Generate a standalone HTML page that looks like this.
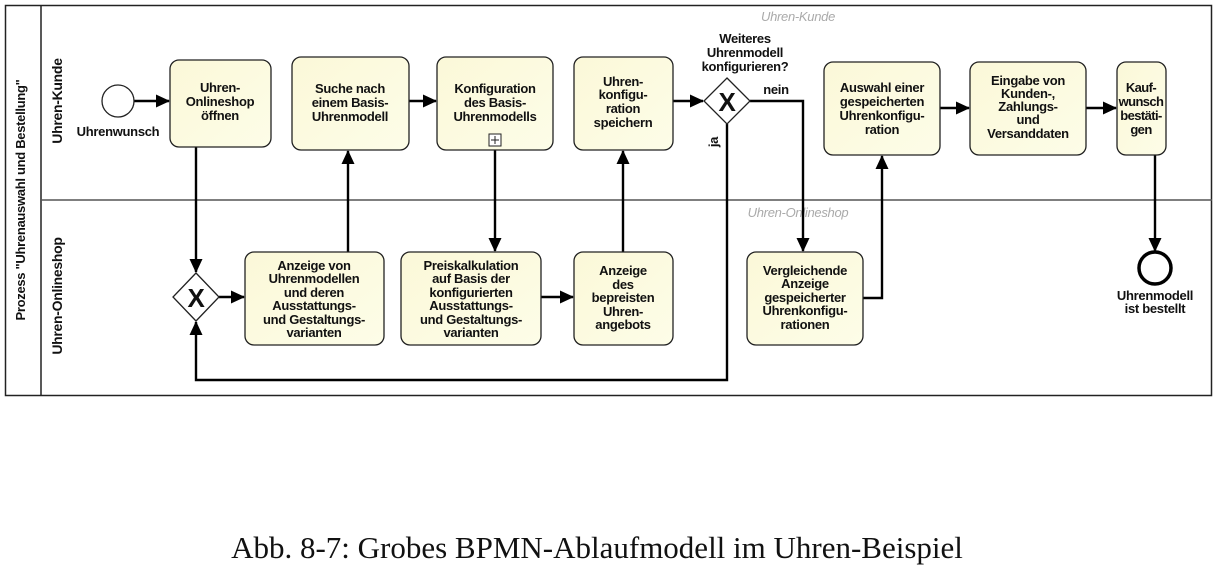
<!DOCTYPE html>
<html><head><meta charset="utf-8"><style>
html,body{margin:0;padding:0;background:#fff;}
svg{display:block;}
text{font-family:"Liberation Sans",sans-serif;font-weight:bold;font-size:13px;letter-spacing:-0.3px;fill:#111;}
.t{text-anchor:middle;}
.w{font-weight:normal;font-style:italic;fill:#aaa;font-size:13px;}
.box{fill:url(#g);stroke:#222;stroke-width:1.3;}
.ln{stroke:#000;stroke-width:2.4;fill:none;}
</style></head><body>
<svg width="1218" height="572" viewBox="0 0 1218 572">
<defs>
<linearGradient id="g" x1="0" y1="0" x2="1" y2="1"><stop offset="0" stop-color="#fbf8d8"/><stop offset="1" stop-color="#fdfde8"/></linearGradient>
<marker id="a" markerWidth="14" markerHeight="14" refX="13" refY="6.5" orient="auto" markerUnits="userSpaceOnUse"><path d="M0,0 L14,6.5 L0,13 z" fill="#000"/></marker>
</defs>
<rect x="5.5" y="5.5" width="1206" height="390" fill="#fff" stroke="#222" stroke-width="1.5"/>
<line x1="41" y1="5" x2="41" y2="395" stroke="#222" stroke-width="1.5"/>
<line x1="41" y1="200" x2="1212" y2="200" stroke="#555" stroke-width="1.5"/>
<text transform="translate(25,200) rotate(-90)" class="t" style="font-size:13px">Prozess "Uhrenauswahl und Bestellung"</text>
<text transform="translate(62,101) rotate(-90)" class="t" style="font-size:14px">Uhren-Kunde</text>
<text transform="translate(62,296) rotate(-90)" class="t" style="font-size:14px">Uhren-Onlineshop</text>
<text x="798" y="21" class="t w">Uhren-Kunde</text>
<text x="798" y="217" class="t w">Uhren-Onlineshop</text>

<path class="ln" d="M134,101 H169" marker-end="url(#a)"/>
<path class="ln" d="M196,147 V272" marker-end="url(#a)"/>
<path class="ln" d="M219,297 H244" marker-end="url(#a)"/>
<path class="ln" d="M348,252 V151" marker-end="url(#a)"/>
<path class="ln" d="M409,101 H436" marker-end="url(#a)"/>
<path class="ln" d="M495,150 V251" marker-end="url(#a)"/>
<path class="ln" d="M541,297 H573" marker-end="url(#a)"/>
<path class="ln" d="M623,252 V151" marker-end="url(#a)"/>
<path class="ln" d="M673,101 H703" marker-end="url(#a)"/>
<path class="ln" d="M750,101 H803 V251" marker-end="url(#a)"/>
<path class="ln" d="M727,124 V380 H196 V322" marker-end="url(#a)"/>
<path class="ln" d="M863,298 H882 V156" marker-end="url(#a)"/>
<path class="ln" d="M940,108 H969" marker-end="url(#a)"/>
<path class="ln" d="M1086,108 H1116" marker-end="url(#a)"/>
<path class="ln" d="M1155,155 V251" marker-end="url(#a)"/>

<circle cx="118" cy="101" r="16" fill="#fff" stroke="#222" stroke-width="1.3"/>
<text x="118" y="136" class="t">Uhrenwunsch</text>
<circle cx="1155" cy="268" r="16" fill="#fff" stroke="#000" stroke-width="3.5"/>
<text x="1155" y="300" class="t">Uhrenmodell</text>
<text x="1155" y="313" class="t">ist bestellt</text>

<g transform="translate(727,101)"><path d="M0,-23 L23,0 L0,23 L-23,0 z" fill="#fff" stroke="#222" stroke-width="1.3"/><text x="0" y="10" class="t" style="font-size:26px">X</text></g>
<g transform="translate(196,297)"><path d="M0,-24 L23,0 L0,24 L-23,0 z" fill="#fff" stroke="#222" stroke-width="1.3"/><text x="0" y="10" class="t" style="font-size:26px">X</text></g>
<text x="745" y="43" class="t">Weiteres</text>
<text x="745" y="57" class="t">Uhrenmodell</text>
<text x="745" y="71" class="t">konfigurieren?</text>
<text x="776" y="94" class="t">nein</text>
<text transform="translate(718,142) rotate(-90)" class="t">ja</text>

<rect class="box" x="170" y="60" width="101" height="87" rx="9"/>
<text x="220" y="92" class="t">Uhren-</text><text x="220" y="106" class="t">Onlineshop</text><text x="220" y="120" class="t">öffnen</text>
<rect class="box" x="292" y="57" width="117" height="93" rx="9"/>
<text x="350" y="93" class="t">Suche nach</text><text x="350" y="107" class="t">einem Basis-</text><text x="350" y="121" class="t">Uhrenmodell</text>
<rect class="box" x="437" y="57" width="116" height="93" rx="9"/>
<text x="495" y="93" class="t">Konfiguration</text><text x="495" y="107" class="t">des Basis-</text><text x="495" y="121" class="t">Uhrenmodells</text>
<rect x="489" y="134" width="12" height="12" fill="#fff" stroke="#222"/><path d="M495,136 V144 M491,140 H499" stroke="#222"/>
<rect class="box" x="574" y="57" width="99" height="93" rx="9"/>
<text x="623" y="86" class="t">Uhren-</text><text x="623" y="99" class="t">konfigu-</text><text x="623" y="113" class="t">ration</text><text x="623" y="127" class="t">speichern</text>
<rect class="box" x="824" y="62" width="116" height="93" rx="9"/>
<text x="882" y="92" class="t">Auswahl einer</text><text x="882" y="106" class="t">gespeicherten</text><text x="882" y="120" class="t">Uhrenkonfigu-</text><text x="882" y="134" class="t">ration</text>
<rect class="box" x="970" y="62" width="116" height="93" rx="9"/>
<text x="1028" y="85" class="t">Eingabe von</text><text x="1028" y="98" class="t">Kunden-,</text><text x="1028" y="111" class="t">Zahlungs-</text><text x="1028" y="124" class="t">und</text><text x="1028" y="138" class="t">Versanddaten</text>
<rect class="box" x="1117" y="62" width="49" height="93" rx="9"/>
<text x="1141" y="92" class="t" style="letter-spacing:-0.6px">Kauf-</text><text x="1141" y="106" class="t" style="letter-spacing:-0.6px">wunsch</text><text x="1141" y="120" class="t" style="letter-spacing:-0.6px">bestäti-</text><text x="1141" y="134" class="t" style="letter-spacing:-0.6px">gen</text>

<rect class="box" x="245" y="252" width="139" height="93" rx="9"/>
<text x="314" y="270" class="t">Anzeige von</text><text x="314" y="283" class="t">Uhrenmodellen</text><text x="314" y="297" class="t">und deren</text><text x="314" y="310" class="t">Ausstattungs-</text><text x="314" y="324" class="t">und Gestaltungs-</text><text x="314" y="337" class="t">varianten</text>
<rect class="box" x="401" y="252" width="140" height="93" rx="9"/>
<text x="471" y="270" class="t">Preiskalkulation</text><text x="471" y="283" class="t">auf Basis der</text><text x="471" y="297" class="t">konfigurierten</text><text x="471" y="310" class="t">Ausstattungs-</text><text x="471" y="324" class="t">und Gestaltungs-</text><text x="471" y="337" class="t">varianten</text>
<rect class="box" x="574" y="252" width="99" height="93" rx="9"/>
<text x="623" y="275" class="t">Anzeige</text><text x="623" y="289" class="t">des</text><text x="623" y="302" class="t">bepreisten</text><text x="623" y="316" class="t">Uhren-</text><text x="623" y="329" class="t">angebots</text>
<rect class="box" x="747" y="252" width="116" height="93" rx="9"/>
<text x="805" y="275" class="t">Vergleichende</text><text x="805" y="288" class="t">Anzeige</text><text x="805" y="302" class="t">gespeicherter</text><text x="805" y="315" class="t">Uhrenkonfigu-</text><text x="805" y="329" class="t">rationen</text>

<text x="597" y="558" class="t" style="font-family:'Liberation Serif',serif;font-weight:normal;font-size:31px;letter-spacing:0">Abb. 8-7: Grobes BPMN-Ablaufmodell im Uhren-Beispiel</text>
</svg>
</body></html>
